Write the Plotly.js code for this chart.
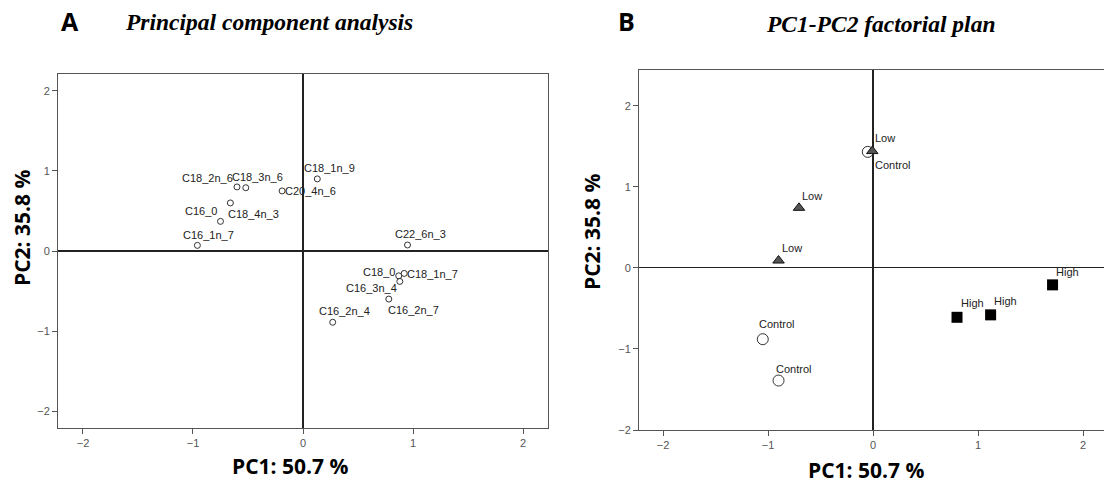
<!DOCTYPE html>
<html>
<head>
<meta charset="utf-8">
<script src="https://cdn.plot.ly/plotly-3.0.1.min.js"></script>
<style>
  html, body { margin: 0; padding: 0; background: #fff; }
  #chart { width: 1104px; height: 488px; }
</style>
</head>
<body>
<div id="chart"></div>
<script>
// ---- Panel A: variable loadings ----
const pcaVars = ["C18_2n_6", "C18_3n_6", "C20_4n_6", "C18_1n_9", "C18_4n_3", "C16_0", "C16_1n_7",
                 "C22_6n_3", "C18_0", "C18_1n_7", "C16_3n_4", "C16_2n_7", "C16_2n_4"];
const pcaX = [-0.60, -0.52, -0.19, 0.13, -0.66, -0.75, -0.96, 0.95, 0.87, 0.92, 0.88, 0.78, 0.27];
const pcaY = [0.80, 0.79, 0.75, 0.90, 0.60, 0.37, 0.07, 0.075, -0.31, -0.28, -0.38, -0.60, -0.89];

// ---- Panel B: sample scores ----
const controlX = [-0.05, -1.05, -0.90];
const controlY = [1.43, -0.88, -1.39];
const lowX = [-0.007, -0.705, -0.90];
const lowY = [1.44, 0.74, 0.09];
const highX = [1.71, 1.12, 0.80];
const highY = [-0.21, -0.58, -0.61];

// label offsets (pixels, styling only)
const shiftA = [[-29, 9], [12, 11], [28, 0], [12, 11], [23, -11], [-19, 10], [11, 10],
                [13, 11], [-20, 4], [28, -1], [-28, -7], [25, -11], [12, 11]];
const shiftControl = [[25, -13], [14, 15], [15, 12]];
const shiftLow = [[13, 13], [13, 12], [13, 13]];
const shiftHigh = [[15, 13], [15, 14], [15, 14]];

const W = 1104, H = 488;
const tickFont = {family: "Liberation Sans, Arial, sans-serif", size: 11, color: "#555"};
const labelFont = {family: "Liberation Sans, Arial, sans-serif", size: 11, color: "#222"};

const traces = [
  {x: pcaX, y: pcaY, xaxis: "x", yaxis: "y", type: "scatter", mode: "markers",
   marker: {symbol: "circle-open", size: 6, color: "#333", line: {width: 1, color: "#333"}},
   text: pcaVars, hoverinfo: "text", showlegend: false},
  {x: controlX, y: controlY, xaxis: "x2", yaxis: "y2", type: "scatter", mode: "markers", name: "Control",
   marker: {symbol: "circle-open", size: 11, color: "#333", line: {width: 1, color: "#333"}}, showlegend: false},
  {x: lowX, y: lowY, xaxis: "x2", yaxis: "y2", type: "scatter", mode: "markers", name: "Low",
   marker: {symbol: "triangle-up", size: 10, color: "#555", line: {width: 1, color: "#111"}}, showlegend: false},
  {x: highX, y: highY, xaxis: "x2", yaxis: "y2", type: "scatter", mode: "markers", name: "High",
   marker: {symbol: "square", size: 11, color: "#000", line: {width: 0}}, showlegend: false}
];

const annotations = [];
pcaVars.forEach((name, i) => {
  annotations.push({x: pcaX[i], y: pcaY[i], xref: "x", yref: "y", text: name, showarrow: false,
    xanchor: "center", yanchor: "middle", xshift: shiftA[i][0], yshift: shiftA[i][1], font: labelFont});
});
function addGroup(xs, ys, label, shifts) {
  xs.forEach((xv, i) => {
    annotations.push({x: xv, y: ys[i], xref: "x2", yref: "y2", text: label, showarrow: false,
      xanchor: "center", yanchor: "middle", xshift: shifts[i][0], yshift: shifts[i][1], font: labelFont});
  });
}
addGroup(controlX, controlY, "Control", shiftControl);
addGroup(lowX, lowY, "Low", shiftLow);
addGroup(highX, highY, "High", shiftHigh);

const titleSans = "Open Sans, DejaVu Sans, sans-serif";
const serif = "Liberation Serif, Times New Roman, serif";
function paperAnn(px, py, text, font, angle) {
  return {x: px / W, y: 1 - py / H, xref: "paper", yref: "paper", text: text, showarrow: false,
          xanchor: "center", yanchor: "middle", font: font, textangle: angle || 0};
}
annotations.push(paperAnn(70, 21, "<b>A</b>", {family: titleSans, size: 25, color: "#000"}));
annotations.push(paperAnn(269, 22, "<b><i>Principal component analysis</i></b>", {family: serif, size: 23.5, color: "#000"}));
annotations.push(paperAnn(626, 21, "<b>B</b>", {family: titleSans, size: 25, color: "#000"}));
annotations.push(paperAnn(880, 24, "<b><i>PC1-PC2 factorial plan</i></b>", {family: serif, size: 23.5, color: "#000"}));
annotations.push(paperAnn(290, 466, "<b>PC1: 50.7 %</b>", {family: titleSans, size: 21, color: "#000"}));
annotations.push(paperAnn(866, 470, "<b>PC1: 50.7 %</b>", {family: titleSans, size: 21, color: "#000"}));
annotations.push(paperAnn(22, 228, "<b>PC2: 35.8 %</b>", {family: titleSans, size: 21, color: "#000"}, -90));
annotations.push(paperAnn(592, 232, "<b>PC2: 35.8 %</b>", {family: titleSans, size: 21, color: "#000"}, -90));

const axisCommon = {
  showgrid: false, zeroline: true, zerolinecolor: "#222", zerolinewidth: 1.2,
  showline: true, mirror: true, linecolor: "#555", linewidth: 1,
  ticks: "outside", ticklen: 5, tickcolor: "#555", tickwidth: 1,
  tickfont: tickFont, dtick: 1, tick0: 0, fixedrange: true
};

const layout = {
  width: W, height: H,
  margin: {l: 0, r: 0, t: 0, b: 0, pad: 0},
  paper_bgcolor: "#fff", plot_bgcolor: "#fff",
  showlegend: false,
  xaxis: Object.assign({}, axisCommon, {domain: [58 / W, 548 / W], range: [-2.227, 2.227], anchor: "y"}),
  yaxis: Object.assign({}, axisCommon, {domain: [1 - 428 / H, 1 - 74 / H], range: [-2.21, 2.21], anchor: "x"}),
  xaxis2: Object.assign({}, axisCommon, {domain: [639 / W, 1], range: [-2.229, 2.2], anchor: "y2"}),
  yaxis2: Object.assign({}, axisCommon, {domain: [1 - 430 / H, 1 - 70 / H], range: [-2, 2.44], anchor: "x2"}),
  annotations: annotations
};

Plotly.newPlot("chart", traces, layout, {displayModeBar: false, staticPlot: true});
</script>
</body>
</html>
